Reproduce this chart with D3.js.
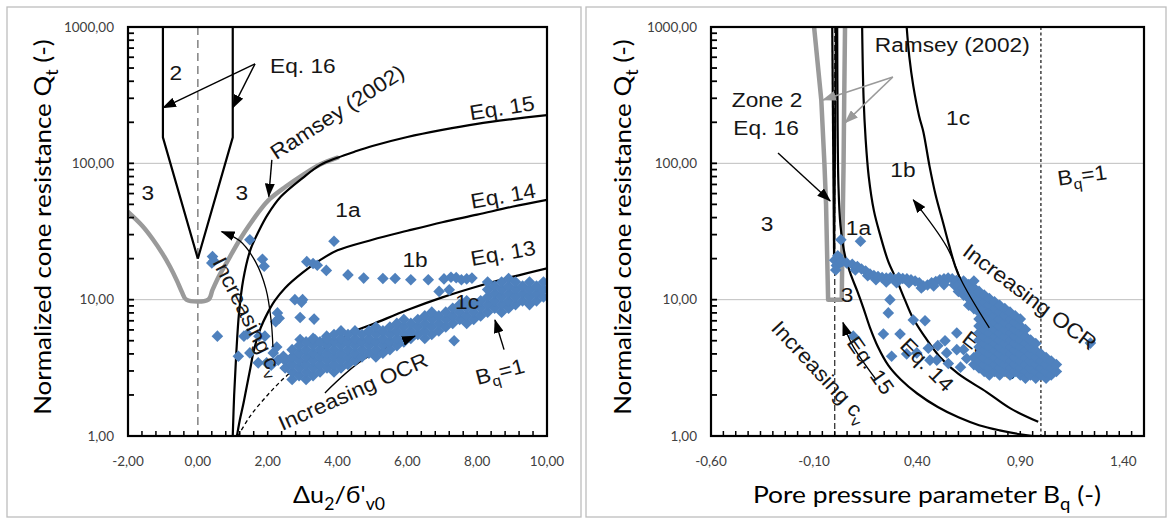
<!DOCTYPE html>
<html>
<head>
<meta charset="utf-8">
<script src="https://cdn.jsdelivr.net/npm/d3@7"></script>
<style>
  html, body { margin: 0; padding: 0; background: #ffffff; }
  svg { display: block; }
</style>
</head>
<body>
<svg id="fig" width="1168" height="523"></svg>
<script>
// ---------- axis ticks ----------
const qTicks = [1, 10, 100, 1000];
const qTickLabels = ["1,00", "10,00", "100,00", "1000,00"];
const duTicks = [-2, 0, 2, 4, 6, 8, 10];
const duTickLabels = ["-2,00", "0,00", "2,00", "4,00", "6,00", "8,00", "10,00"];
const bqTicks = [-0.6, -0.1, 0.4, 0.9, 1.4];
const bqTickLabels = ["-0,60", "-0,10", "0,40", "0,90", "1,40"];

// ---------- left panel: Qt against Δu2/σ'v0 ----------
const duZone2A = [[-1, 1000], [-1, 155], [0, 20]];
const duZone2B = [[1, 1000], [1, 155], [0, 20]];
const duRamsey = [[-2, 44], [-1.6, 35], [-1.3, 28], [-1.0, 21.5], [-0.8, 17.5], [-0.6, 13.8], [-0.45, 11.3], [-0.33, 10],
  [0.3, 10], [0.42, 11.8], [0.6, 14.8], [0.83, 18.8], [1.2, 27.5], [1.5, 36], [1.8, 46], [2.07, 55], [2.5, 67],
  [3.0, 82], [3.5, 98], [4.0, 110]];
const duEq15 = [[1.0, 1.0], [1.04, 2], [1.1, 4], [1.18, 8], [1.3, 14], [1.5, 23], [1.75, 32], [2.0, 42], [2.38, 57],
  [3.0, 78], [3.5, 97], [4.0, 110], [4.5, 122], [5, 134], [6, 156], [7, 176], [8, 195], [9, 211], [10, 226]];
const duEq14 = [[1.12, 1.0], [1.2, 1.3], [1.3, 1.7], [1.4, 2.3], [1.5, 3.1], [1.6, 4.2], [1.8, 6.2], [2.0, 8.0],
  [2.2, 9.8], [2.5, 12.2], [3.0, 15.8], [3.5, 19.5], [4.0, 23], [5.0, 27.5], [6.0, 32], [7.0, 37], [8.0, 42],
  [9.0, 48], [10, 54]];
const duEq13Dashed = [[1.15, 1.0], [1.5, 1.4], [2.0, 2.0], [2.5, 2.7], [3.0, 3.4]];
const duEq13 = [[3.0, 3.4], [3.5, 4.2], [4.0, 5.0], [4.5, 5.9], [5.0, 6.6], [6.0, 8.4], [7.0, 10.4], [8.0, 12.5],
  [9.0, 14.7], [10, 17]];

// measured points: isolated readings
const duScatter = [[0.42, 20.7], [0.40, 18.6], [0.46, 19.2], [1.49, 27.5], [1.85, 19.8], [1.9, 17.6], [3.12, 19.0],
  [3.3, 18.4], [3.42, 17.9], [3.68, 16.4], [3.9, 26.8], [4.3, 15.2], [4.75, 14.4], [5.3, 14.3], [5.65, 14.3],
  [6.1, 14.0], [6.6, 14.0], [6.91, 11.5], [7.05, 14.2], [7.2, 11.8], [7.25, 14.6], [7.4, 14.5], [7.55, 14.0],
  [7.7, 14.2], [7.85, 14.4], [0.56, 5.4], [1.32, 5.4], [1.42, 5.6], [1.75, 5.4], [1.92, 5.4], [2.23, 6.9],
  [2.28, 8.0], [2.33, 7.3], [2.78, 10.0], [3.0, 10.0], [2.97, 9.6], [2.93, 7.4], [3.33, 7.2], [2.93, 5.1],
  [3.35, 5.1], [3.69, 5.4], [1.16, 3.85], [1.49, 4.07], [1.73, 3.44], [1.97, 3.44], [2.16, 4.07], [2.26, 4.5],
  [2.45, 3.85], [2.1, 3.3], [2.3, 3.6], [7.34, 5.0]];
// measured points: the dense band, one row per Δu2/σ'v0 value followed by its Qt readings
const duBand = [
  [2.5, 3.15, 3.57], [2.7, 2.6, 2.95, 3.35, 3.8, 4.3], [2.9, 2.77, 3.15, 3.57, 4.05, 4.6],
  [3.1, 2.6, 2.95, 3.35, 3.8, 4.3, 4.9], [3.3, 2.77, 3.15, 3.57, 4.05, 4.6, 5.2], [3.5, 2.95, 3.35, 3.8, 4.3, 4.9],
  [3.7, 3.15, 3.57, 4.05, 4.6, 5.2], [3.9, 2.95, 3.35, 3.8, 4.3, 4.9, 5.55], [4.1, 3.15, 3.57, 4.05, 4.6, 5.2, 5.9],
  [4.3, 3.35, 3.8, 4.3, 4.9, 5.55], [4.5, 3.57, 4.05, 4.6, 5.2, 5.9], [4.7, 3.8, 4.3, 4.9, 5.55],
  [4.9, 4.05, 4.6, 5.2, 5.9], [5.1, 3.8, 4.3, 4.9, 5.55, 6.3], [5.3, 4.05, 4.6, 5.2, 5.9], [5.5, 4.3, 4.9, 5.55, 6.3],
  [5.7, 4.6, 5.2, 5.9, 6.7], [5.9, 4.9, 5.55, 6.3, 7.15], [6.1, 5.2, 5.9, 6.7], [6.3, 5.55, 6.3, 7.15],
  [6.5, 5.2, 5.9, 6.7, 7.6], [6.7, 5.55, 6.3, 7.15, 8.1], [6.9, 5.9, 6.7, 7.6], [7.1, 6.3, 7.15, 8.1],
  [7.3, 6.7, 7.6, 8.65], [7.5, 7.15, 8.1, 9.2], [7.7, 6.7, 7.6, 8.65, 9.8], [7.9, 7.15, 8.1, 9.2],
  [8.1, 7.6, 8.65, 9.8], [8.3, 8.1, 9.2, 10.45, 11.85, 13.45], [8.5, 8.65, 9.8, 11.1, 12.6],
  [8.7, 8.1, 9.2, 10.45, 11.85, 13.45], [8.9, 8.65, 9.8, 11.1, 12.6, 14.3], [9.1, 9.2, 10.45, 11.85, 13.45],
  [9.3, 9.8, 11.1, 12.6], [9.5, 9.2, 10.45, 11.85, 13.45], [9.7, 9.8, 11.1, 12.6], [9.9, 10.45, 11.85, 13.45]];

// ---------- right panel: Qt against Bq ----------
const bqRamsey = [[-0.1, 1000], [-0.065, 290], [-0.05, 100], [-0.042, 50], [-0.032, 10], [0.034, 10], [0.04, 50],
  [0.043, 100], [0.046, 290], [0.05, 1000]];
const bqZone2A = [[-0.012, 1000], [-0.003, 20]];
const bqZone2B = [[0.006, 1000], [-0.003, 20]];
const bqEq15 = [[0.012, 1000], [0.014, 200], [0.018, 70], [0.028, 35], [0.05, 21], [0.08, 15], [0.11, 11.5],
  [0.14, 8.6], [0.17, 6.3], [0.21, 4.5], [0.26, 3.3], [0.32, 2.6], [0.4, 2.05], [0.5, 1.63], [0.6, 1.37],
  [0.7, 1.2], [0.8, 1.1], [0.9, 1.03], [0.96, 1.0]];
const bqEq14 = [[0.133, 1000], [0.14, 300], [0.15, 150], [0.165, 80], [0.19, 45], [0.22, 30], [0.26, 19],
  [0.30, 14], [0.34, 10], [0.38, 7.3], [0.45, 5], [0.51, 3.8], [0.6, 2.85], [0.737, 2.1], [0.85, 1.6], [0.987, 1.27]];
const bqEq13 = [[0.349, 1000], [0.362, 600], [0.381, 370], [0.41, 220], [0.43, 170], [0.46, 95], [0.49, 58],
  [0.525, 37], [0.555, 25], [0.585, 17.5], [0.62, 13], [0.672, 9.3], [0.72, 7], [0.76, 5.5]];

const bqScatter = [[0.03, 27.5], [0.125, 26.8], [0.268, 10], [0.26, 8.0], [0.381, 7.1], [0.438, 7.0], [0.09, 5.4],
  [0.236, 5.6], [0.317, 5.6], [0.276, 3.85], [0.349, 4.0], [0.398, 4.07], [0.454, 4.4], [0.462, 3.6], [0.535, 5.0],
  [0.543, 4.07], [0.551, 3.4], [0.592, 5.7], [0.592, 4.3], [0.625, 4.3], [0.64, 3.7], [0.495, 3.6], [0.61, 3.2],
  [0.5, 4.6], [1.24, 4.8]];
const bqChain = [[0.0, 19.5], [0.008, 17.8], [0.015, 21], [0.022, 18.5], [0.005, 16.5], [0.035, 19], [0.058, 18.6],
  [0.085, 18.2], [0.1, 16.5], [0.11, 17.5], [0.13, 16.8], [0.15, 16.2], [0.16, 15.0], [0.171, 15.4], [0.19, 15.0],
  [0.2, 14.0], [0.21, 14.8], [0.23, 14.5], [0.25, 14.4], [0.25, 13.5], [0.27, 14.5], [0.29, 14.1], [0.3, 13.3],
  [0.31, 14.5], [0.33, 14.3], [0.35, 14.2], [0.36, 13.3], [0.37, 14.0], [0.39, 13.7], [0.41, 13.3], [0.42, 12.2],
  [0.43, 12.6], [0.45, 12.8], [0.47, 13.3], [0.48, 12.6], [0.49, 13.6], [0.51, 14.0], [0.53, 14.2], [0.53, 12.9],
  [0.55, 14.4], [0.57, 14.2], [0.58, 12.8], [0.59, 13.8]];
// dense cloud, one row per Bq value followed by its Qt readings
const bqCloud = [
  [0.600, 11.5, 12.9], [0.625, 10.8, 12.2, 13.7], [0.650, 9.1, 10.2, 11.5, 12.9],
  [0.675, 3.34, 3.76, 8.6, 9.65, 10.8, 12.2, 13.7],
  [0.700, 3.15, 3.55, 4.0, 4.5, 5.05, 5.7, 6.4, 7.2, 8.1, 9.1, 10.2, 11.5],
  [0.725, 2.97, 3.34, 3.76, 4.24, 4.77, 5.36, 6.04, 6.8, 7.63, 8.6, 9.65, 10.8],
  [0.750, 2.8, 3.15, 3.55, 4.0, 4.5, 5.05, 5.7, 6.4, 7.2, 8.1, 9.1, 10.2],
  [0.775, 2.97, 3.34, 3.76, 4.24, 4.77, 5.36, 6.04, 6.8, 7.63, 8.6, 9.65],
  [0.800, 2.8, 3.15, 3.55, 4.0, 4.5, 5.05, 5.7, 6.4, 7.2, 8.1, 9.1],
  [0.825, 2.97, 3.34, 3.76, 4.24, 4.77, 5.36, 6.04, 6.8, 7.63, 8.6],
  [0.850, 2.8, 3.15, 3.55, 4.0, 4.5, 5.05, 5.7, 6.4, 7.2, 8.1],
  [0.875, 2.97, 3.34, 3.76, 4.24, 4.77, 5.36, 6.04, 6.8, 7.63],
  [0.900, 2.8, 3.15, 3.55, 4.0, 4.5, 5.05, 5.7, 6.4, 7.2],
  [0.925, 2.65, 2.97, 3.34, 3.76, 4.24, 4.77, 5.36, 6.04],
  [0.950, 2.8, 3.15, 3.55, 4.0, 4.5, 5.05],
  [0.975, 2.65, 2.97, 3.34, 3.76, 4.24, 4.77],
  [1.000, 2.8, 3.15, 3.55, 4.0],
  [1.025, 2.65, 2.97, 3.34, 3.76],
  [1.050, 2.8, 3.15, 3.55],
  [1.075, 2.97, 3.34]];

// ---------- drawing ----------
const svg = d3.select("#fig");
const defs = svg.append("defs");
const NOTE_FONT = "'Liberation Sans', Arial, Helvetica, sans-serif";
const AXIS_FONT = "Lato, 'Open Sans', sans-serif";
const BLUE = "#4f81bd";

function addMarker(id, color) {
  defs.append("marker").attr("id", id)
    .attr("viewBox", "0 0 14 10").attr("refX", 13).attr("refY", 5)
    .attr("markerWidth", 14).attr("markerHeight", 10)
    .attr("markerUnits", "userSpaceOnUse").attr("orient", "auto")
    .append("path").attr("d", "M0,0L14,5L0,10Z").attr("fill", color);
}
addMarker("headBlack", "#000");
addMarker("headGray", "#9a9a9a");

function makePanel(id, frame, plot, xDomain) {
  const x = d3.scaleLinear().domain(xDomain).range([plot.x0, plot.x1]);
  const y = d3.scaleLog().domain([1, 1000]).range([plot.y1, plot.y0]);
  const g = svg.append("g");
  g.append("rect").attr("x", frame.x0).attr("y", frame.y0)
    .attr("width", frame.x1 - frame.x0).attr("height", frame.y1 - frame.y0)
    .attr("fill", "#fff").attr("stroke", "#bdbdbd").attr("stroke-width", 1.3);
  defs.append("clipPath").attr("id", "clip-" + id).append("rect")
    .attr("x", plot.x0).attr("y", plot.y0).attr("width", plot.x1 - plot.x0).attr("height", plot.y1 - plot.y0);
  const body = g.append("g").attr("clip-path", `url(#clip-${id})`);
  const top = g.append("g");
  // horizontal gridlines
  body.selectAll("line.grid").data([10, 100]).join("line")
    .attr("x1", plot.x0).attr("x2", plot.x1).attr("y1", d => y(d)).attr("y2", d => y(d))
    .attr("stroke", "#bfbfbf").attr("stroke-width", 1);
  return { x, y, g, body, top, plot };
}

function curve(P, pts, o = {}) {
  const line = d3.line().x(d => P.x(d[0])).y(d => P.y(d[1]))
    .curve(o.linear ? d3.curveLinear : d3.curveCatmullRom.alpha(0.5));
  (o.layer || P.body).append("path").attr("d", line(pts)).attr("fill", "none")
    .attr("stroke", o.color || "#000").attr("stroke-width", o.width || 2.2)
    .attr("stroke-dasharray", o.dash || null)
    .attr("stroke-linejoin", "round").attr("stroke-linecap", o.cap || "butt")
    .attr("marker-end", o.head ? `url(#${o.head})` : null);
}

function vline(P, xv, o) {
  P.body.append("line").attr("x1", P.x(xv)).attr("x2", P.x(xv)).attr("y1", P.plot.y0).attr("y2", P.plot.y1)
    .attr("stroke", o.color).attr("stroke-width", o.width).attr("stroke-dasharray", o.dash);
}

function diamonds(P, pts) {
  P.body.append("g").selectAll("path").data(pts).join("path")
    .attr("d", "M0,-5.8L5.8,0L0,5.8L-5.8,0Z")
    .attr("transform", d => `translate(${P.x(d[0])},${P.y(d[1])})`)
    .attr("fill", BLUE);
}
const unrow = rows => rows.flatMap(r => r.slice(1).map(q => [r[0], q]));

function textParts(parent, parts, size, font, color, anchor) {
  const t = parent.append("text").attr("y", size * 0.35).attr("text-anchor", anchor)
    .attr("font-family", font).attr("font-size", size).attr("fill", color);
  let wasSub = false;
  parts.forEach(([txt, sub]) => {
    const ts = t.append("tspan").text(txt);
    if (sub) { ts.attr("font-size", size * 0.7); if (!wasSub) ts.attr("dy", size * 0.28); }
    else if (wasSub) ts.attr("dy", -size * 0.28);
    wasSub = !!sub;
  });
  return t;
}

function note(P, parts, xv, qv, o = {}) {
  const gg = (o.layer || P.top).append("g")
    .attr("transform", `translate(${P.x(xv)},${P.y(qv)}) rotate(${o.rotate || 0}) scale(${o.sx || 1.08},1)`);
  textParts(gg, parts, o.size || 21, NOTE_FONT, "#161616", o.anchor || "middle");
}

function axes(P, xTicks, xLabels, minorStep) {
  const { x0, x1, y0, y1 } = P.plot;
  const a = P.top;
  // log ticks on the Qt axis
  const yt = [];
  [1, 10, 100].forEach(k => d3.range(1, 10).forEach(m => yt.push(m * k)));
  yt.push(1000);
  a.selectAll("line.yt").data(yt).join("line")
    .attr("x1", x0).attr("x2", x0 + 6).attr("y1", d => P.y(d)).attr("y2", d => P.y(d))
    .attr("stroke", "#000").attr("stroke-width", 1.8);
  // ticks along the bottom
  const dom = P.x.domain();
  const xt = d3.range(0, Math.round((dom[1] - dom[0]) / minorStep) + 1).map(i => dom[0] + i * minorStep);
  a.selectAll("line.xt").data(xt).join("line")
    .attr("x1", d => P.x(d)).attr("x2", d => P.x(d)).attr("y1", y1).attr("y2", y1 - 5)
    .attr("stroke", "#000").attr("stroke-width", 1.5);
  a.append("rect").attr("x", x0).attr("y", y0).attr("width", x1 - x0).attr("height", y1 - y0)
    .attr("fill", "none").attr("stroke", "#000").attr("stroke-width", 2.2);
  // tick labels
  a.selectAll("text.yl").data(qTicks).join("text")
    .attr("x", x0 - 14).attr("y", d => P.y(d) + 4.5).attr("text-anchor", "end")
    .attr("font-family", AXIS_FONT).attr("font-size", 13.5).attr("fill", "#404040")
    .text((d, i) => qTickLabels[i]);
  a.selectAll("text.xl").data(xTicks).join("text")
    .attr("x", d => P.x(d)).attr("y", y1 + 30).attr("text-anchor", "middle")
    .attr("font-family", AXIS_FONT).attr("font-size", 13.5).attr("fill", "#404040")
    .text((d, i) => xLabels[i]);
}

function title(parts, cx, cy, rotate, size, sx) {
  const gg = svg.append("g").attr("transform", `translate(${cx},${cy}) rotate(${rotate}) scale(${sx},1)`);
  textParts(gg, parts, size, AXIS_FONT, "#000", "middle");
}

// ===== left panel =====
const L = makePanel("left", { x0: 7, y0: 7, x1: 581, y1: 517 }, { x0: 128, y0: 27, x1: 547, y1: 436 }, [-2, 10]);
vline(L, 0, { color: "#8a8a8a", width: 1.6, dash: "8,5" });
curve(L, duRamsey, { color: "#9a9a9a", width: 4.5, cap: "round" });
curve(L, duZone2A, { linear: true });
curve(L, duZone2B, { linear: true });
curve(L, duEq15);
curve(L, duEq14);
curve(L, duEq13Dashed, { width: 1.3, dash: "4,3" });
curve(L, duEq13);
curve(L, [[3.64, 2.07], [4.74, 3.63], [6.1, 5.25]], { width: 1.3 });
diamonds(L, duScatter);
diamonds(L, unrow(duBand));
// arrows
curve(L, [[6.0, 5.12], [6.22, 5.4]], { width: 1.3, head: "headBlack", linear: true, layer: L.top });
curve(L, [[1.637, 536], [-1.0, 255]], { width: 1.4, head: "headBlack", linear: true, layer: L.top });
curve(L, [[1.637, 536], [1.0, 255]], { width: 1.4, head: "headBlack", linear: true, layer: L.top });
curve(L, [[2.12, 106], [2.03, 57]], { width: 1.4, head: "headBlack", linear: true, layer: L.top });
curve(L, [[2.15, 4.5], [2.1, 7], [1.95, 12], [1.65, 19], [1.2, 27], [0.68, 31.6]], { width: 1.3, head: "headBlack", layer: L.top });
curve(L, [[8.77, 4.3], [8.51, 7.1]], { width: 1.4, head: "headBlack", linear: true, layer: L.top });
// labels
note(L, [["2"]], -0.63, 460);
note(L, [["3"]], -1.43, 61);
note(L, [["3"]], 1.26, 61);
note(L, [["Eq. 16"]], 2.07, 525, { anchor: "start" });
note(L, [["Ramsey (2002)"]], 3.99, 238, { rotate: -33 });
note(L, [["Eq. 15"]], 8.71, 255, { rotate: -9 });
note(L, [["Eq. 14"]], 8.74, 57.8, { rotate: -10 });
note(L, [["Eq. 13"]], 8.74, 22, { rotate: -10 });
note(L, [["1a"]], 4.3, 45.6);
note(L, [["1b"]], 6.22, 19.6);
note(L, [["1c"]], 7.71, 9.7);
note(L, [["Increasing c"], ["v", 1]], 1.44, 7.5, { rotate: 63 });
note(L, [["Increasing OCR"]], 4.44, 2.12, { rotate: -24 });
note(L, [["B"], ["q", 1], ["=1"]], 8.65, 2.97, { rotate: -15 });
axes(L, duTicks, duTickLabels, 0.4);

// ===== right panel =====
const R = makePanel("right", { x0: 586, y0: 7, x1: 1166, y1: 517 }, { x0: 711, y0: 27, x1: 1144, y1: 436 }, [-0.6, 1.5]);
vline(R, 0, { color: "#333", width: 1.3, dash: "6,3" });
vline(R, 1, { color: "#222", width: 1.3, dash: "3,2.5" });
curve(R, bqRamsey, { color: "#9a9a9a", width: 4.5, linear: true });
curve(R, bqZone2A, { linear: true });
curve(R, bqZone2B, { linear: true });
curve(R, bqEq15);
curve(R, bqEq14);
curve(R, bqEq13);
note(R, [["Eq. 13"]], 0.758, 3.9, { rotate: 38, layer: R.body });
diamonds(R, bqScatter);
diamonds(R, bqChain);
diamonds(R, unrow(bqCloud));
// arrows
curve(R, [[-0.275, 119], [-0.022, 53]], { width: 1.4, head: "headBlack", linear: true, layer: R.top });
curve(R, [[0.282, 430], [-0.057, 292]], { width: 1.6, color: "#9a9a9a", head: "headGray", linear: true, layer: R.top });
curve(R, [[0.282, 430], [0.05, 198]], { width: 1.6, color: "#9a9a9a", head: "headGray", linear: true, layer: R.top });
curve(R, [[0.2, 2.6], [0.084, 4.7], [0.04, 6.8]], { width: 1.3, head: "headBlack", layer: R.top });
curve(R, [[0.75, 6.2], [0.62, 13.3], [0.543, 24.5], [0.381, 54]], { width: 1.3, head: "headBlack", layer: R.top });
// labels
note(R, [["Zone 2"]], -0.328, 292);
note(R, [["Eq. 16"]], -0.333, 182);
note(R, [["Ramsey (2002)"]], 0.57, 738);
note(R, [["1c"]], 0.598, 215);
note(R, [["1b"]], 0.331, 89.6);
note(R, [["1a"]], 0.115, 33.5);
note(R, [["3"]], -0.328, 36);
note(R, [["3"]], 0.06, 10.8);
note(R, [["B"], ["q", 1], ["=1"]], 1.2, 82, { rotate: -8 });
note(R, [["Increasing OCR"]], 0.947, 10.5, { rotate: 37 });
note(R, [["Increasing c"], ["v", 1]], -0.072, 2.97, { rotate: 47 });
note(R, [["Eq. 15"]], 0.175, 3.3, { rotate: 55 });
note(R, [["Eq. 14"]], 0.448, 3.33, { rotate: 45 });
axes(R, bqTicks, bqTickLabels, 0.06);

// ===== axis titles =====
title([["Normalized cone resistance Q"], ["t", 1], [" (-)"]], 43, 227, -90, 24, 1.08);
title([["Normalized cone resistance Q"], ["t", 1], [" (-)"]], 623, 227, -90, 24, 1.08);
title([["Δu"], ["2", 1], ["/б'"], ["v0", 1]], 339, 495, 0, 24, 1.05);
title([["Pore pressure parameter B"], ["q", 1], [" (-)"]], 927, 495, 0, 24, 1.1);
</script>
</body>
</html>
